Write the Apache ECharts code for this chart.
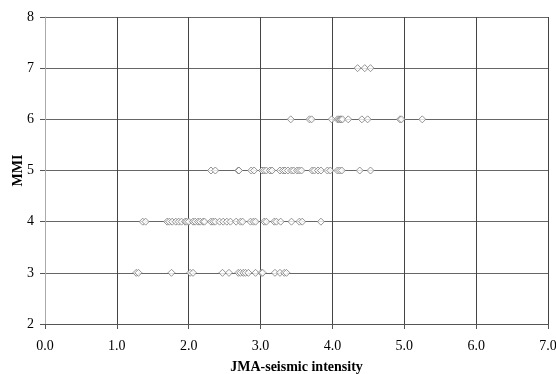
<!DOCTYPE html>
<html><head><meta charset="utf-8">
<script src="https://cdn.jsdelivr.net/npm/echarts@6/dist/echarts.min.js"></script>
<style>html,body{margin:0;padding:0;background:#fff}#c{width:556px;height:374px}</style>
</head><body><div id="c"></div>
<script>
// JMA-seismic intensity values grouped by MMI level
const mmiLevels = [3, 4, 5, 6, 7];
const jma3 = [1.27, 1.30, 1.76, 2.02, 2.06, 2.47, 2.56, 2.69, 2.72, 2.76, 2.79, 2.83, 2.93, 3.01, 3.03, 3.20, 3.27, 3.33, 3.36];
const jma4 = [1.36, 1.40, 1.70, 1.73, 1.77, 1.82, 1.86, 1.90, 1.95, 1.97, 2.00, 2.06, 2.09, 2.13, 2.16, 2.20, 2.22, 2.31, 2.34, 2.37, 2.43, 2.48, 2.53, 2.58, 2.66, 2.72, 2.75, 2.86, 2.90, 2.93, 3.05, 3.08, 3.19, 3.22, 3.28, 3.43, 3.54, 3.58, 3.84];
const jma5 = [2.31, 2.37, 2.69, 2.70, 2.87, 2.91, 3.02, 3.05, 3.08, 3.13, 3.16, 3.27, 3.31, 3.34, 3.38, 3.43, 3.46, 3.51, 3.54, 3.57, 3.72, 3.75, 3.80, 3.84, 3.93, 3.97, 4.07, 4.10, 4.13, 4.38, 4.53];
const jma6 = [3.42, 3.68, 3.71, 3.99, 4.07, 4.09, 4.11, 4.12, 4.14, 4.22, 4.41, 4.49, 4.94, 4.96, 5.25];
const jma7 = [4.35, 4.45, 4.53];
const xTicks = [0, 1, 2, 3, 4, 5, 6, 7];
const yTicks = [2, 3, 4, 5, 6, 7, 8];

const groups = [jma3, jma4, jma5, jma6, jma7];
const points = [];
groups.forEach((arr, i) => arr.forEach(v => points.push([v, mmiLevels[i]])));

const font = '"Liberation Serif", "Times New Roman", serif';
const chart = echarts.init(document.getElementById('c'));
chart.setOption({
  backgroundColor: '#fff',
  animation: false,
  grid: {left: 45, right: 8, top: 17, bottom: 50, containLabel: false, outerBoundsMode: 'none'},
  xAxis: {
    type: 'value', min: xTicks[0], max: xTicks[xTicks.length-1], interval: 1,
    name: 'JMA-seismic intensity', nameLocation: 'middle', nameGap: 36, nameMoveOverlap: false,
    nameTextStyle: {fontFamily: font, fontSize: 14, fontWeight: 'bold', color: '#000'},
    axisLine: {show: true, lineStyle: {color: '#555', width: 1}},
    axisTick: {show: true, length: 5, lineStyle: {color: '#555'}},
    axisLabel: {fontFamily: font, fontSize: 14, color: '#000', margin: 15, formatter: v => v.toFixed(1)},
    splitLine: {show: true, lineStyle: {color: '#444', width: 1}}
  },
  yAxis: {
    type: 'value', min: yTicks[0], max: yTicks[yTicks.length-1], interval: 1,
    name: 'MMI', nameLocation: 'middle', nameGap: 20, nameRotate: 90, nameMoveOverlap: false,
    nameTextStyle: {fontFamily: font, fontSize: 14, fontWeight: 'bold', color: '#000'},
    axisLine: {show: true, lineStyle: {color: '#aaa', width: 1}},
    axisTick: {show: true, length: 5, lineStyle: {color: '#555'}},
    axisLabel: {fontFamily: font, fontSize: 14, color: '#000', margin: 11},
    splitLine: {show: true, lineStyle: {color: '#666', width: 1}}
  },
  series: [{
    type: 'scatter',
    data: points,
    symbol: 'diamond',
    symbolSize: [7, 7],
    itemStyle: {color: '#fff', borderColor: '#7a7a7a', borderWidth: 1}
  }]
});
</script></body></html>
